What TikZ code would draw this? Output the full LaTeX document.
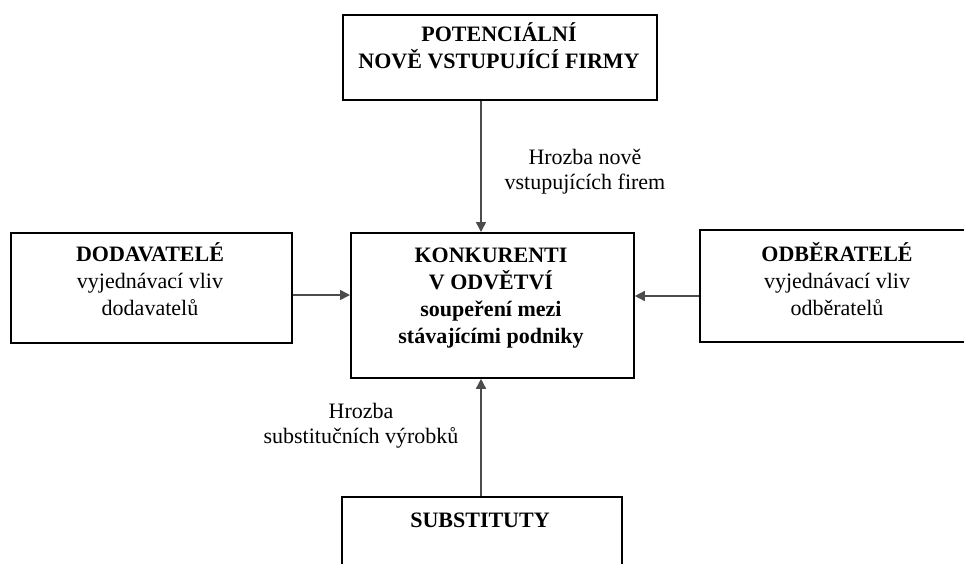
\documentclass[tikz,border=0pt]{standalone}
\usepackage{fontspec}
\setmainfont{Liberation Serif}
\usetikzlibrary{arrows.meta}
\begin{document}
\begin{tikzpicture}[x=1pt,y=-1pt,
  box/.style={draw=black, line width=1.8pt, anchor=north west, inner sep=0pt},
  % multi-line nodes: the base anchor sits on the baseline of the last line
  txt/.style={align=center, anchor=base, inner sep=0pt, font=\fontsize{22}{27}\selectfont},
  btxt/.style={txt, font=\fontsize{22}{27}\selectfont\bfseries},
  lbl/.style={align=center, anchor=base, inner sep=0pt, font=\fontsize{22}{25}\selectfont},
  force/.style={draw=black!70, line width=1.5pt, -{Triangle[length=10pt,width=10pt]}}
]
\clip (0,0) rectangle (964,563);
\fill[white] (0,0) rectangle (964,563);

% boxes
\node[box, minimum width=314pt, minimum height=85pt]  (topB)   at (342,14)  {};
\node[box, minimum width=281pt, minimum height=110pt] (leftB)  at (10,232)  {};
\node[box, minimum width=283pt, minimum height=145pt] (centB)  at (350,232) {};
\node[box, minimum width=290pt, minimum height=112pt] (rightB) at (699,229) {};
\node[box, minimum width=280pt, minimum height=100pt] (botB)   at (341,496) {};

% box texts
\node[btxt] (topT) at (499,68) {POTENCIÁLNÍ\\NOVĚ VSTUPUJÍCÍ FIRMY};
\node[txt] (leftT) at (150,315) {\textbf{DODAVATELÉ}\\vyjednávací vliv\\dodavatelů};
\node[btxt] (centT) at (491,343) {KONKURENTI\\V ODVĚTVÍ\\soupeření mezi\\stávajícími podniky};
\node[txt] (rightT) at (837,315) {\textbf{ODBĚRATELÉ}\\vyjednávací vliv\\odběratelů};
\node[txt] (botT) at (480,527) {\textbf{SUBSTITUTY}};

% labels of the forces
\node[lbl] (newL) at (585,189) {Hrozba nově\\vstupujících firem};
\node[lbl] (subL) at (361,443) {Hrozba\\substitučních výrobků};

% connectors
\coordinate (vx) at (481,0);
\coordinate (hl) at (0,295);
\coordinate (hr) at (0,296);
\draw[force] (topB.south -| vx) -- (centB.north -| vx);
\draw[force] (botB.north -| vx) -- (centB.south -| vx);
\draw[force] (leftB.east |- hl) -- (centB.west |- hl);
\draw[force] (rightB.west |- hr) -- (centB.east |- hr);
\end{tikzpicture}
\end{document}
